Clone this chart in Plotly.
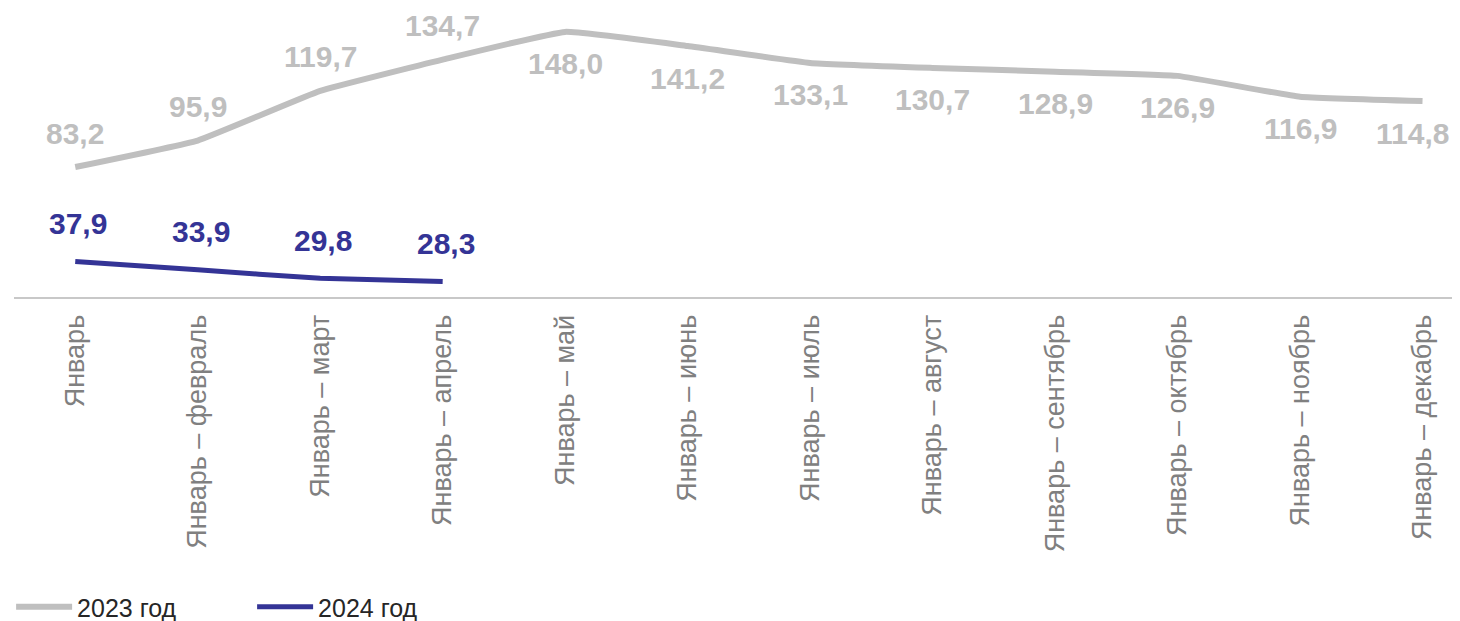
import plotly.graph_objects as go

categories = ["Январь", "Январь – февраль", "Январь – март", "Январь – апрель",
              "Январь – май", "Январь – июнь", "Январь – июль", "Январь – август",
              "Январь – сентябрь", "Январь – октябрь", "Январь – ноябрь", "Январь – декабрь"]
values_2023 = [83.2, 95.9, 119.7, 134.7, 148.0, 141.2, 133.1, 130.7, 128.9, 126.9, 116.9, 114.8]
values_2024 = [37.9, 33.9, 29.8, 28.3]
above_2023 = [True] * 4 + [False] * 8

GRAY = "#bfbfbf"
BLUE = "#343496"
LABEL_FONT = dict(family="Liberation Sans, Arial", size=30, weight="bold")

def fmt(v):
    return f"{v:.1f}".replace(".", ",")

fig = go.Figure()
fig.add_trace(go.Scatter(x=categories, y=values_2023, mode="lines", name="2023 год",
                         line=dict(color=GRAY, width=6, shape="spline", smoothing=0.3)))
fig.add_trace(go.Scatter(x=categories[:len(values_2024)], y=values_2024, mode="lines", name="2024 год",
                         line=dict(color=BLUE, width=5, shape="spline", smoothing=0.3)))

n = len(categories)
for i, (c, v, up) in enumerate(zip(categories, values_2023, above_2023)):
    fig.add_annotation(x=c, y=v, text=fmt(v), showarrow=False, xanchor="center", yanchor="middle",
                       yshift=34 if up else -32, xshift=-10 if i == n - 1 else 0,
                       font=dict(color=GRAY, **LABEL_FONT))
for c, v in zip(categories, values_2024):
    fig.add_annotation(x=c, y=v, text=fmt(v), showarrow=False, xanchor="center", yanchor="middle",
                       yshift=38, xshift=3, font=dict(color=BLUE, **LABEL_FONT))

fig.update_layout(
    width=1452, height=613,
    margin=dict(l=6, r=0, t=0, b=324, autoexpand=False),
    paper_bgcolor="white", plot_bgcolor="white",
    font=dict(family="Liberation Sans, Arial", color="#7f7f7f"),
    xaxis=dict(type="category", range=[-0.5, 11.306], showline=True, linecolor="#c8c8c8", linewidth=2,
               showgrid=False, zeroline=False, ticks="", tickangle=-90, ticklabelstandoff=5,
               tickfont=dict(size=27, color="#808080")),
    yaxis=dict(range=[20.85, 159.46], visible=False, showgrid=False, zeroline=False),
    legend=dict(orientation="h", x=-0.002, xanchor="left", y=-1.0727, yanchor="middle",
                font=dict(size=25, color="#262626"), entrywidth=170, itemwidth=56,
                bgcolor="rgba(0,0,0,0)"),
    showlegend=True,
)

fig.write_html("out.html")
